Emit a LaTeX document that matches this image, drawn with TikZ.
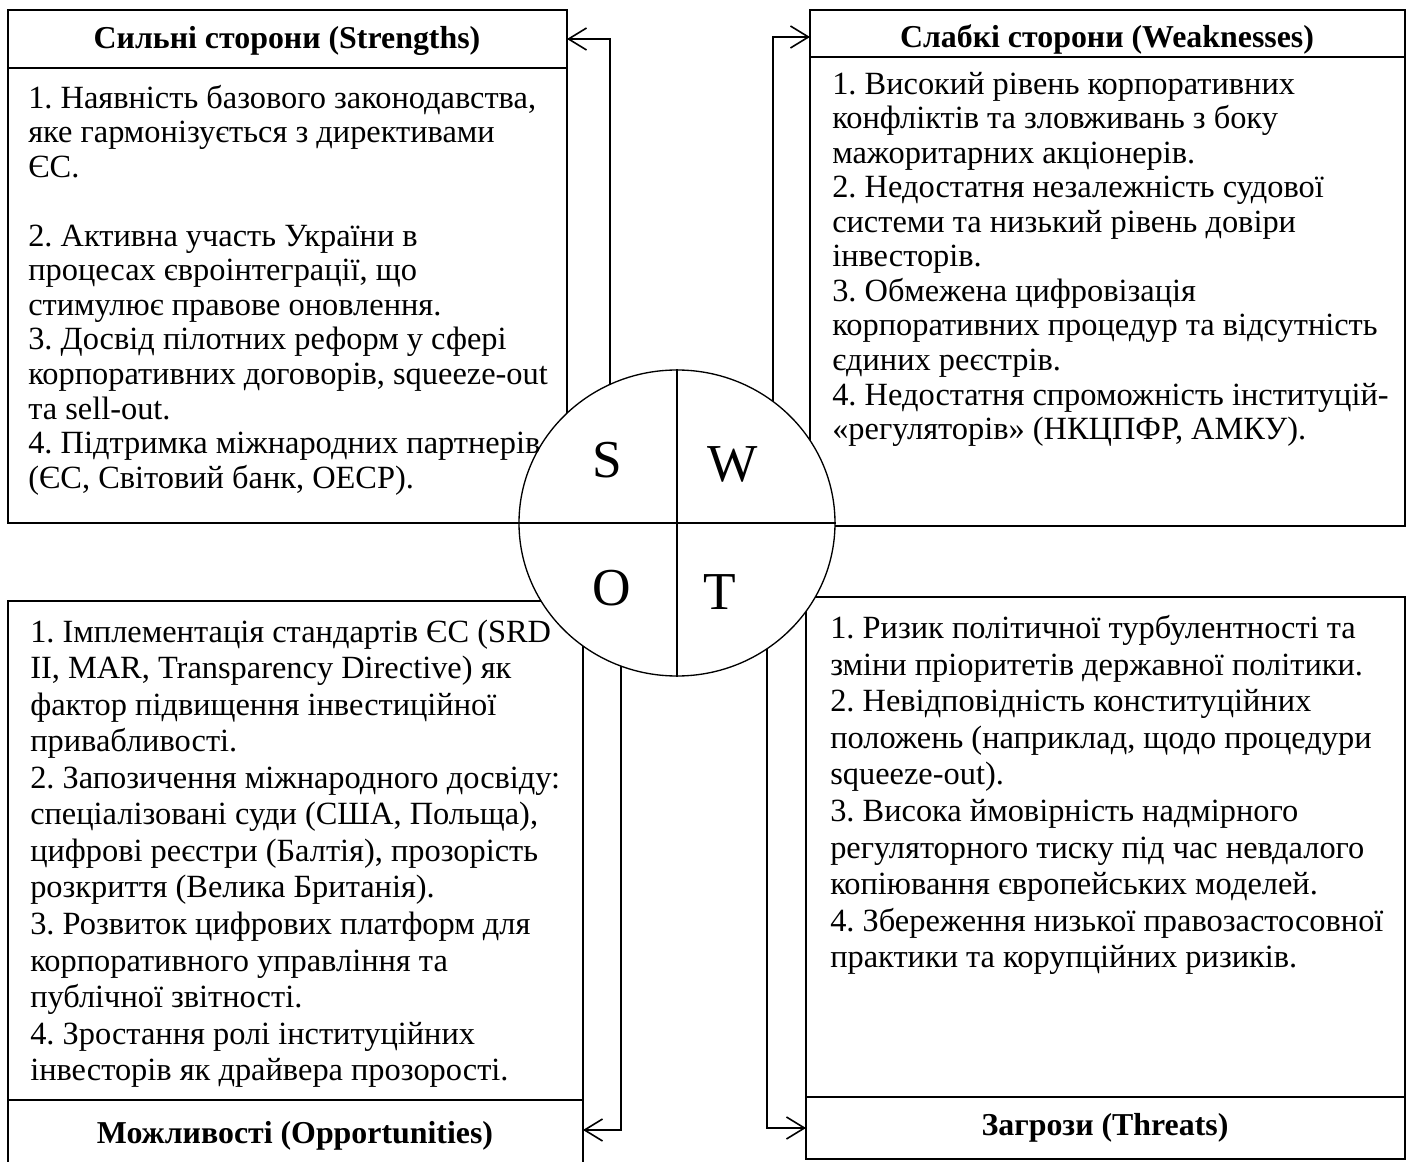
\documentclass[tikz,border=0pt]{standalone}
\usepackage{fontspec}
\setmainfont{Liberation Serif}
\frenchspacing
\usetikzlibrary{arrows.meta,shapes.geometric,fit}
\begin{document}
\begin{tikzpicture}[x=0.75pt,y=-0.75pt,
  box/.style={draw, line width=1pt, fill=white, inner sep=0pt, outer sep=0pt},
  ttltext/.style={inner sep=0pt, font=\fontsize{23.9}{26}\selectfont\bfseries},
  txttop/.style={anchor=north west, align=left, inner sep=0pt, font=\fontsize{24.3}{25.9}\selectfont},
  txtbot/.style={anchor=north west, align=left, inner sep=0pt, font=\fontsize{24.3}{27.4}\selectfont},
  arr/.style={line width=1.2pt, -{Straight Barb[length=13.5pt,width=16.5pt]}},
  letter/.style={inner sep=0pt, font=\fontsize{40}{48}\selectfont},
  divider/.style={line width=1pt}
]
\useasboundingbox (0,0) rectangle (1411,1162);
% boxes
\node[box, fit={(8,10)(567,68)}] (stitle) {};
\node[box, fit={(8,68)(567,523)}] (sbox) {};
\node[box, fit={(810,10)(1405,57)}] (wtitle) {};
\node[box, fit={(810,57)(1405,526)}] (wbox) {};
\node[box, fit={(8,601)(583,1100)}] (obox) {};
\node[box, fit={(8,1100)(583,1174)}] (otitle) {};
\node[box, fit={(806,597)(1405,1097)}] (tbox) {};
\node[box, fit={(806,1097)(1405,1159)}] (ttitle) {};
% titles
\node[ttltext] (stitletext) at (287,41) {Сильні сторони (Strengths)};
\node[ttltext] (wtitletext) at (1107,39) {Слабкі сторони (Weaknesses)};
\node[ttltext] (otitletext) at (295,1136) {Можливості (Opportunities)};
\node[ttltext] (ttitletext) at (1105,1128) {Загрози (Threats)};
% connectors
\coordinate (sa) at (610,450);
\coordinate (wa) at (773,450);
\coordinate (oa) at (621,600);
\coordinate (ta) at (767,600);
\coordinate (oend) at (583,1130);
\coordinate (wend) at (810,37);
\draw[arr] (sa) |- (stitle.east);
\draw[arr] (wa) |- (wend);
\draw[arr] (oa) |- (oend);
\draw[arr] (ta) |- (ttitle.west);
% circle
\node[draw, line width=1pt, ellipse, fill=white, inner sep=0pt,
      minimum width=237pt, minimum height=229.5pt] (circ) at (677,523) {};
\draw[divider] (circ.north) -- (circ.south);
\draw[divider] (circ.west) -- (circ.east);
\node[letter] (ls) at (607,460) {S};
\node[letter] (lw) at (733,464) {W};
\node[letter] (lo) at (612,588) {O};
\node[letter] (lt) at (720,592) {T};
% texts
\node[txttop] (stext) at (28,83.8) {\strut 1. Наявність базового законодавства,\\
яке гармонізується з директивами\\
ЄС.\\[25.9pt]
2. Активна участь України в\\
процесах євроінтеграції, що\\
стимулює правове оновлення.\\
3. Досвід пілотних реформ у сфері\\
корпоративних договорів, squeeze-out\\
та sell-out.\\
4. Підтримка міжнародних партнерів\\
(ЄС, Світовий банк, ОЕСР).};
\node[txttop] (wtext) at (832,69.8) {\strut 1. Високий рівень корпоративних\\
конфліктів та зловживань з боку\\
мажоритарних акціонерів.\\
2. Недостатня незалежність судової\\
системи та низький рівень довіри\\
інвесторів.\\
3. Обмежена цифровізація\\
корпоративних процедур та відсутність\\
єдиних реєстрів.\\
4. Недостатня спроможність інституцій-\\
«регуляторів» (НКЦПФР, АМКУ).};
\node[txtbot] (otext) at (30,616.4) {\strut 1. Імплементація стандартів ЄС (SRD\\
II, MAR, Transparency Directive) як\\
фактор підвищення інвестиційної\\
привабливості.\\
2. Запозичення міжнародного досвіду:\\
спеціалізовані суди (США, Польща),\\
цифрові реєстри (Балтія), прозорість\\
розкриття (Велика Британія).\\
3. Розвиток цифрових платформ для\\
корпоративного управління та\\
публічної звітності.\\
4. Зростання ролі інституційних\\
інвесторів як драйвера прозорості.};
\node[txtbot] (ttext) at (830,613) {\strut 1. Ризик політичної турбулентності та\\
зміни пріоритетів державної політики.\\
2. Невідповідність конституційних\\
положень (наприклад, щодо процедури\\
squeeze-out).\\
3. Висока ймовірність надмірного\\
регуляторного тиску під час невдалого\\
копіювання європейських моделей.\\
4. Збереження низької правозастосовної\\
практики та корупційних ризиків.};
\end{tikzpicture}
\end{document}
